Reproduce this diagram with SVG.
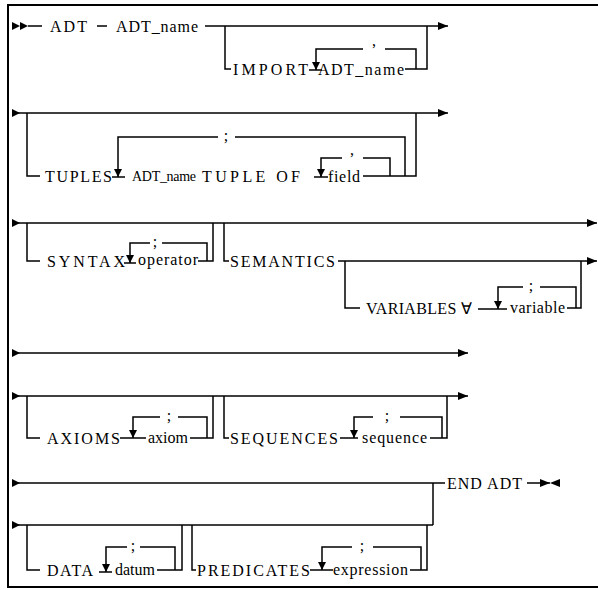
<svg xmlns="http://www.w3.org/2000/svg" width="598" height="590" viewBox="0 0 598 590">
<style>
.ln{stroke:#000;stroke-width:1.5;fill:none}
.fr{stroke:#000;stroke-width:2;fill:none}
.t{font-family:"Liberation Serif","Times New Roman",serif;font-size:16px;fill:#000}
.p{font-family:"Liberation Serif","Times New Roman",serif;font-size:16px;fill:#000;text-anchor:middle}
.tri{fill:#000}
</style>
<defs>
<marker id="ar" markerUnits="userSpaceOnUse" viewBox="0 0 10 8" markerWidth="10" markerHeight="8" refX="10" refY="4" orient="auto"><path d="M0,0 L10,4 L0,8 Z" fill="#000"/></marker>
<marker id="dn" markerUnits="userSpaceOnUse" viewBox="0 0 8 8" markerWidth="8" markerHeight="8" refX="8" refY="4" orient="auto"><path d="M0,0 L8,4 L0,8 Z" fill="#000"/></marker>
<marker id="ent" markerUnits="userSpaceOnUse" viewBox="0 0 8 8" markerWidth="8" markerHeight="8" refX="0" refY="4" orient="auto"><path d="M0,0 L8,4 L0,8 Z" fill="#000"/></marker>
</defs>
<path class="fr" d="M600,5 H8 V587 H600"/>
<g id="connectors">
<polygon class="tri" points="12,22 20,26 12,30"/>
<polygon class="tri" points="20,22 28,26 20,30"/>
<path class="ln" d="M28,26 H42"/>
<path class="ln" d="M97,26 H107"/>
<path class="ln" d="M205,26 H448" marker-end="url(#ar)"/>
<path class="ln" d="M225,26 V69 H231"/>
<path class="ln" d="M309,70 H322"/>
<path class="ln" d="M416,69 V49 H385"/>
<path class="ln" d="M363,49 H316 V70" marker-end="url(#dn)"/>
<path class="ln" d="M405,69 H427 V26"/>
<path class="ln" d="M12,113 H448" marker-start="url(#ent)" marker-end="url(#ar)"/>
<path class="ln" d="M27,113 V176 H40"/>
<path class="ln" d="M112,177 H125"/>
<path class="ln" d="M405,176 V137 H235"/>
<path class="ln" d="M218,137 H118 V177" marker-end="url(#dn)"/>
<path class="ln" d="M314,177 H328"/>
<path class="ln" d="M390,176 V158 H363"/>
<path class="ln" d="M342,158 H321 V177" marker-end="url(#dn)"/>
<path class="ln" d="M363,176 H416 V113"/>
<path class="ln" d="M12,223 H597" marker-start="url(#ent)" marker-end="url(#ar)"/>
<path class="ln" d="M27,223 V261 H40"/>
<path class="ln" d="M124,263 H136"/>
<path class="ln" d="M207,261 V243 H162"/>
<path class="ln" d="M150,243 H130 V263" marker-end="url(#dn)"/>
<path class="ln" d="M198,261 H213 V223"/>
<path class="ln" d="M224,223 V261 H229"/>
<path class="ln" d="M338,261 H597" marker-end="url(#ar)"/>
<path class="ln" d="M345,261 V308 H360"/>
<path class="ln" d="M478,309 H507"/>
<path class="ln" d="M576,308 V287 H540"/>
<path class="ln" d="M523,287 H498 V309" marker-end="url(#dn)"/>
<path class="ln" d="M567,308 H581 V261"/>
<path class="ln" d="M12,353 H468" marker-start="url(#ent)" marker-end="url(#ar)"/>
<path class="ln" d="M12,396 H468" marker-start="url(#ent)" marker-end="url(#ar)"/>
<path class="ln" d="M27,396 V438 H40"/>
<path class="ln" d="M120,438 H146"/>
<path class="ln" d="M207,438 V417 H178"/>
<path class="ln" d="M160,417 H133 V438" marker-end="url(#dn)"/>
<path class="ln" d="M190,438 H213 V396"/>
<path class="ln" d="M224,396 V438 H229"/>
<path class="ln" d="M340,438 H358"/>
<path class="ln" d="M442,438 V417 H400"/>
<path class="ln" d="M373,417 H354 V438" marker-end="url(#dn)"/>
<path class="ln" d="M430,438 H447 V396"/>
<path class="ln" d="M12,483 H445" marker-start="url(#ent)"/>
<path class="ln" d="M433,483 V525"/>
<path class="ln" d="M527,483 H550" marker-end="url(#ar)"/>
<polygon class="tri" points="560,479 550,483 560,487"/>
<path class="ln" d="M12,525 H433" marker-start="url(#ent)"/>
<path class="ln" d="M27,525 V570 H40"/>
<path class="ln" d="M99,572 H112"/>
<path class="ln" d="M175,570 V547 H140"/>
<path class="ln" d="M127,547 H106 V572" marker-end="url(#dn)"/>
<path class="ln" d="M157,570 H182 V525"/>
<path class="ln" d="M192,525 V570 H196"/>
<path class="ln" d="M310,570 H333"/>
<path class="ln" d="M421,570 V547 H373"/>
<path class="ln" d="M352,547 H322 V570" marker-end="url(#dn)"/>
<path class="ln" d="M410,570 H427 V525"/>
</g>
<g id="n-adt"><text class="t" x="50" y="32" textLength="37" lengthAdjust="spacing">ADT</text></g>
<g id="n-adtname1"><text class="t" x="116" y="32" textLength="82" lengthAdjust="spacing">ADT_name</text></g>
<g id="n-import"><text class="t" x="233" y="75" textLength="75" lengthAdjust="spacing">IMPORT</text></g>
<g id="n-adtname2"><text class="t" x="318" y="75" textLength="86" lengthAdjust="spacing">ADT_name</text></g>
<g id="n-comma1"><text class="p" x="374" y="46">,</text></g>
<g id="n-tuples"><text class="t" x="45" y="182" textLength="67" lengthAdjust="spacing">TUPLES</text></g>
<g id="n-adtname3"><text class="t" x="132" y="181" style="font-size:14px" textLength="64" lengthAdjust="spacing">ADT_name</text></g>
<g id="n-tupleof"><text class="t" x="202" y="182" textLength="98" lengthAdjust="spacing">TUPLE OF</text></g>
<g id="n-field"><text class="t" x="328" y="182" textLength="32" lengthAdjust="spacing">field</text></g>
<g id="n-semi1"><text class="p" x="226" y="141">;</text></g>
<g id="n-comma2"><text class="p" x="352" y="155">,</text></g>
<g id="n-syntax"><text class="t" x="47" y="267" textLength="78" lengthAdjust="spacing">SYNTAX</text></g>
<g id="n-operator"><text class="t" x="138" y="265" textLength="60" lengthAdjust="spacing">operator</text></g>
<g id="n-semi2"><text class="p" x="155" y="247">;</text></g>
<g id="n-semantics"><text class="t" x="230" y="267" textLength="105" lengthAdjust="spacing">SEMANTICS</text></g>
<g id="n-variables"><text class="t" x="366" y="314" textLength="106" lengthAdjust="spacing">VARIABLES ∀</text></g>
<g id="n-variable"><text class="t" x="510" y="313" textLength="55" lengthAdjust="spacing">variable</text></g>
<g id="n-semi3"><text class="p" x="531" y="291">;</text></g>
<g id="n-axioms"><text class="t" x="47" y="444" textLength="73" lengthAdjust="spacing">AXIOMS</text></g>
<g id="n-axiom"><text class="t" x="148" y="443" textLength="40" lengthAdjust="spacing">axiom</text></g>
<g id="n-semi4"><text class="p" x="169" y="421">;</text></g>
<g id="n-sequences"><text class="t" x="230" y="444" textLength="108" lengthAdjust="spacing">SEQUENCES</text></g>
<g id="n-sequence"><text class="t" x="362" y="443" textLength="65" lengthAdjust="spacing">sequence</text></g>
<g id="n-semi5"><text class="p" x="387" y="421">;</text></g>
<g id="n-endadt"><text class="t" x="447" y="489" textLength="75" lengthAdjust="spacing">END ADT</text></g>
<g id="n-data"><text class="t" x="47" y="576" textLength="46" lengthAdjust="spacing">DATA</text></g>
<g id="n-datum"><text class="t" x="115" y="575" textLength="40" lengthAdjust="spacing">datum</text></g>
<g id="n-semi6"><text class="p" x="133" y="551">;</text></g>
<g id="n-predicates"><text class="t" x="197" y="576" textLength="113" lengthAdjust="spacing">PREDICATES</text></g>
<g id="n-expression"><text class="t" x="333" y="575" textLength="75" lengthAdjust="spacing">expression</text></g>
<g id="n-semi7"><text class="p" x="362" y="551">;</text></g>
</svg>
